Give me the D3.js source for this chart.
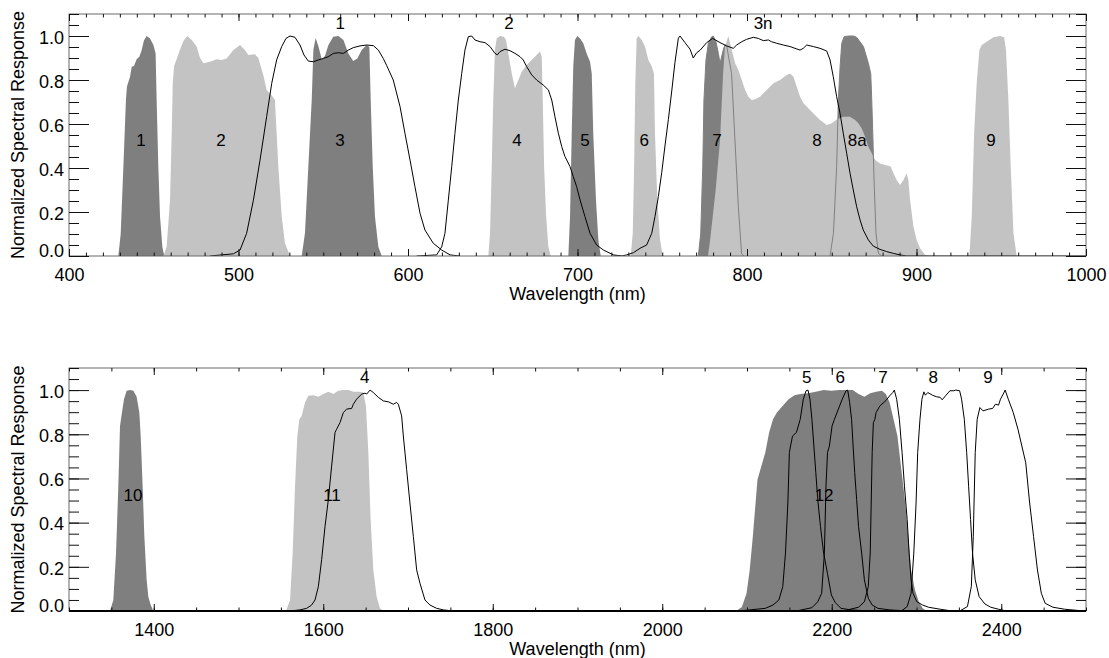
<!DOCTYPE html>
<html>
<head>
	<script src="https://cdn.jsdelivr.net/npm/d3@7"></script>
	<style>
		html, body {
			padding: 0;
			margin: 0;
			background: #fff;
		}
		text {
			font-family: "Liberation Sans", Arial, sans-serif;
		}
	</style>
</head>
<body>
	<script>
		var width = 1109, height = 658;

		// Sentinel-2 MSI bands (filled), [wavelength nm, response]
		var s2b1 = [[429.1,0],[430.5,0.10],[432.1,0.41],[433.6,0.71],[434.2,0.77],[436.0,0.815],[437.0,0.86],[438.3,0.864],[439.9,0.894],[441.5,0.906],[442.9,0.936],[444.2,0.979],[445.8,1.0],[447.8,0.989],[449.8,0.959],[451.1,0.921],[451.7,0.71],[452.7,0.406],[453.7,0.18],[455.1,0.04],[456.2,0]];
		var s2b2 = [[455.7,0],[457.6,0.042],[459.6,0.256],[460.6,0.556],[461.2,0.785],[462.0,0.864],[463.5,0.894],[465.5,0.939],[467.5,0.977],[469.8,1.0],[472.4,0.982],[475.3,0.952],[477.3,0.9],[479.3,0.876],[483.2,0.883],[487.1,0.894],[490.1,0.891],[493.0,0.898],[497.0,0.936],[500.9,0.959],[503.8,0.936],[505.8,0.914],[509.7,0.917],[511.7,0.9],[514.7,0.82],[516.6,0.755],[519.6,0.73],[521.5,0.709],[522.5,0.558],[523.5,0.406],[525.5,0.18],[527.4,0.058],[530.4,0]];
		var s2b3 = [[537.3,0],[539.2,0.103],[541.2,0.406],[543.2,0.709],[544.2,0.939],[545.5,0.991],[547.1,0.955],[549.1,0.894],[551.0,0.909],[553.0,0.958],[555.9,0.997],[558.9,1.0],[561.9,0.982],[564.8,0.921],[567.7,0.886],[570.1,0.898],[572.7,0.936],[575.6,0.959],[577.2,0.95],[578.0,0.709],[579.2,0.406],[580.5,0.18],[582.5,0.042],[584.5,0]];
		var s2b4 = [[647.4,0],[648.4,0.103],[649.4,0.406],[650.3,0.709],[651.3,0.936],[652.3,0.989],[654.3,1.0],[656.6,0.997],[657.8,0.982],[659.2,0.921],[661.2,0.83],[663.1,0.762],[665.1,0.8],[667.1,0.838],[670.0,0.868],[673.0,0.891],[675.9,0.914],[677.9,0.929],[678.9,0.906],[679.5,0.709],[680.3,0.406],[681.5,0.18],[682.8,0.042],[684.2,0]];
		var s2b5 = [[694.6,0],[695.6,0.179],[696.6,0.558],[697.5,0.861],[698.5,0.982],[699.9,1.0],[701.5,0.989],[703.4,0.967],[705.4,0.921],[707.4,0.883],[708.4,0.83],[709.3,0.558],[710.9,0.255],[712.3,0.073],[713.7,0]];
		var s2b6 = [[731.4,0],[732.6,0.103],[733.4,0.406],[734.1,0.785],[734.9,0.989],[735.9,1.0],[737.9,0.982],[739.8,0.952],[741.8,0.891],[743.8,0.861],[745.1,0.83],[745.7,0.558],[747.1,0.255],[748.7,0.073],[750.3,0]];
		var s2b7 = [[771.3,0],[772.7,0.103],[773.9,0.406],[774.6,0.709],[775.8,0.891],[777.2,0.967],[779.2,0.997],[780.1,1.0],[781.7,0.974],[783.1,0.921],[784.1,0.876],[786.1,0.94],[787.0,0.96],[788.0,0.955],[790.9,0.83],[792.9,0.527],[794.9,0.224],[796.8,0.01],[798.2,0]];
		var s2b8 = [[777.0,0],[778.2,0.07],[781.5,0.3],[784.1,0.527],[785.9,0.83],[787.0,0.95],[789.0,1.0],[791.0,0.936],[793.0,0.876],[794.9,0.845],[796.9,0.8],[798.9,0.755],[800.8,0.724],[802.8,0.709],[804.8,0.712],[807.7,0.724],[811.6,0.755],[815.6,0.785],[819.5,0.8],[823.4,0.823],[825.4,0.83],[827.4,0.815],[829.3,0.77],[831.3,0.724],[833.3,0.694],[835.2,0.679],[839.2,0.648],[843.1,0.618],[847.0,0.595],[850.0,0.603],[852.9,0.621],[856.9,0.633],[860.8,0.633],[863.8,0.618],[865.7,0.603],[867.7,0.58],[869.7,0.542],[871.6,0.497],[873.6,0.467],[875.6,0.436],[878.5,0.421],[881.5,0.414],[883.4,0.41],[884.8,0.406],[886.4,0.376],[888.3,0.345],[890.3,0.323],[892.3,0.345],[894.2,0.376],[895.2,0.345],[896.2,0.255],[898.2,0.133],[900.1,0.073],[902.1,0.035],[905.1,0.005],[908.0,0]];
		var s2b8a = [[849.0,0],[851.0,0.103],[852.9,0.406],[853.9,0.709],[854.9,0.858],[855.9,0.967],[857.3,0.997],[859.8,1.0],[862.8,1.0],[864.7,0.994],[868.7,0.952],[871.6,0.876],[873.0,0.83],[873.6,0.709],[874.2,0.558],[875.0,0.333],[876.1,0.103],[877.5,0.012],[879.5,0]];
		var s2b9 = [[931.2,0],[932.6,0.179],[934.0,0.558],[935.5,0.785],[937.1,0.936],[938.5,0.959],[941.4,0.974],[945.4,0.994],[949.3,1.0],[951.7,0.994],[952.8,0.936],[954.2,0.709],[955.6,0.406],[957.2,0.103],[959.1,0]];
		var s2b10 = [[1348.4,0],[1352.3,0.05],[1355.5,0.262],[1358.2,0.565],[1360.2,0.838],[1362.5,0.898],[1364.9,0.959],[1368.0,0.997],[1372.0,1.0],[1375.9,0.997],[1379.8,0.97],[1383.0,0.898],[1384.6,0.792],[1386.9,0.565],[1388.9,0.338],[1391.6,0.141],[1393.6,0.065],[1396.4,0.027],[1399.5,0]];
		var s2b11 = [[1556.0,0],[1560.8,0.05],[1563.9,0.262],[1566.7,0.565],[1569.4,0.792],[1571.8,0.868],[1574.5,0.883],[1578.5,0.944],[1582.4,0.974],[1588.3,0.977],[1594.2,0.97],[1600.1,0.982],[1606.0,0.992],[1611.9,0.982],[1617.8,0.997],[1623.7,1.0],[1629.6,1.0],[1635.5,0.992],[1643.4,0.992],[1647.3,0.989],[1650.4,0.927],[1653.2,0.717],[1655.9,0.414],[1659.1,0.186],[1663.0,0.065],[1666.9,0.012],[1670.9,0]];
		var s2b12 = [[2087.2,0],[2094.0,0.018],[2099.5,0.08],[2103.2,0.186],[2106.9,0.338],[2110.1,0.489],[2112.4,0.595],[2117.0,0.656],[2121.6,0.717],[2126.1,0.808],[2130.7,0.868],[2135.3,0.898],[2142.2,0.929],[2149.1,0.959],[2156.0,0.977],[2162.8,0.982],[2172.0,0.986],[2181.2,0.992],[2190.4,1.0],[2199.5,0.997],[2208.7,1.0],[2217.9,1.0],[2224.8,1.0],[2231.6,0.982],[2238.5,0.97],[2245.4,0.986],[2252.3,0.992],[2259.2,0.997],[2263.8,0.982],[2268.3,0.944],[2272.9,0.868],[2277.5,0.792],[2282.1,0.64],[2286.7,0.489],[2290.3,0.338],[2293.6,0.186],[2298.2,0.095],[2302.7,0.042],[2307.3,0.012],[2311.9,0]];

		// ASTER bands (outlines)
		var ast1 = [[483.2,0],[497.0,0.01],[500.9,0.027],[504.8,0.103],[508.8,0.254],[512.7,0.436],[516.6,0.633],[519.6,0.785],[522.5,0.891],[525.5,0.952],[528.0,0.989],[530.4,1.0],[533.3,0.994],[536.3,0.959],[538.6,0.914],[541.2,0.886],[544.2,0.883],[547.1,0.891],[550.1,0.898],[553.0,0.906],[556.0,0.921],[558.9,0.924],[561.9,0.921],[564.8,0.936],[567.7,0.947],[571.7,0.955],[575.6,0.959],[579.6,0.956],[582.5,0.936],[585.4,0.898],[587.4,0.866],[591.3,0.8],[595.3,0.679],[598.2,0.558],[601.2,0.436],[604.1,0.315],[607.1,0.194],[610.0,0.118],[614.9,0.058],[619.9,0.027],[624.8,0.005],[630.7,0]];
		var ast2 = [[605.1,0],[616.9,0.005],[619.9,0.042],[621.8,0.103],[623.8,0.254],[625.8,0.406],[627.7,0.558],[629.7,0.709],[631.7,0.83],[633.6,0.936],[635.6,0.997],[637.6,1.0],[639.5,0.982],[642.5,0.974],[645.4,0.97],[648.4,0.952],[651.3,0.921],[652.7,0.914],[654.3,0.929],[657.2,0.94],[660.2,0.933],[663.1,0.921],[666.1,0.906],[668.0,0.891],[670.0,0.861],[673.0,0.823],[675.9,0.8],[679.8,0.777],[682.8,0.755],[684.8,0.709],[686.7,0.633],[688.7,0.558],[690.7,0.497],[692.6,0.452],[695.6,0.406],[697.5,0.361],[699.5,0.315],[701.5,0.255],[704.4,0.179],[707.4,0.103],[711.3,0.05],[715.3,0.027],[721.2,0.005],[726.1,0]];
		var ast3n = [[721.2,0],[726.1,0],[729.0,0.005],[733.0,0.015],[736.9,0.035],[740.8,0.05],[743.8,0.103],[745.7,0.179],[747.7,0.27],[749.7,0.38],[751.6,0.5],[753.6,0.62],[755.6,0.75],[757.5,0.88],[759.5,0.99],[760.5,1.0],[763.4,0.97],[766.4,0.94],[768.3,0.9],[770.3,0.924],[772.3,0.935],[776.2,0.97],[779.7,0.989],[784.1,0.97],[788.0,0.955],[791.9,0.944],[793.9,0.959],[796.9,0.974],[799.8,0.985],[803.7,0.994],[806.7,0.989],[809.6,0.979],[812.6,0.982],[814.5,0.974],[817.5,0.967],[821.4,0.959],[825.4,0.952],[828.3,0.944],[831.3,0.936],[833.2,0.944],[835.2,0.959],[839.1,0.952],[843.1,0.944],[847.0,0.932],[849.0,0.891],[850.9,0.815],[852.9,0.724],[854.9,0.648],[856.8,0.558],[858.8,0.467],[860.8,0.376],[862.7,0.3],[864.7,0.224],[866.7,0.164],[868.6,0.118],[871.6,0.073],[874.5,0.045],[878.5,0.03],[882.4,0.02],[886.3,0.012],[890.3,0.005],[894.2,0],[1000,0]];
		var ast4 = [[1300,0],[1560.0,0],[1572.6,0.005],[1580.4,0.012],[1586.3,0.027],[1590.3,0.05],[1594.2,0.11],[1598.1,0.232],[1602.1,0.383],[1606.0,0.504],[1609.9,0.656],[1613.9,0.808],[1615.8,0.823],[1619.8,0.853],[1623.7,0.898],[1627.6,0.914],[1633.5,0.917],[1635.5,0.936],[1639.4,0.959],[1645.3,0.982],[1649.3,0.986],[1651.2,0.982],[1655.2,1.0],[1659.1,0.989],[1665.0,0.967],[1670.9,0.951],[1676.8,0.947],[1682.7,0.936],[1686.6,0.944],[1688.6,0.936],[1692.5,0.883],[1694.5,0.792],[1698.4,0.64],[1702.3,0.489],[1706.3,0.338],[1710.2,0.186],[1714.1,0.126],[1720.0,0.05],[1725.9,0.027],[1733.8,0.012],[1741.7,0.005],[1753.5,0],[2500,0]];
		var ast5 = [[1300,0],[2090.0,0],[2103.2,0.005],[2121.6,0.012],[2130.7,0.027],[2137.6,0.05],[2142.2,0.11],[2145.4,0.262],[2148.2,0.489],[2150.0,0.717],[2151.4,0.747],[2153.7,0.792],[2158.3,0.808],[2162.8,0.868],[2166.5,0.959],[2169.7,0.997],[2172.0,1.0],[2174.3,0.959],[2176.6,0.868],[2178.9,0.747],[2181.2,0.626],[2183.5,0.504],[2186.7,0.383],[2190.4,0.262],[2194.9,0.171],[2199.5,0.073],[2204.1,0.038],[2211.0,0.012],[2222.5,0.005],[2245.4,0],[2500,0]];
		var ast6 = [[1300,0],[2158.3,0],[2176.6,0.015],[2183.5,0.042],[2188.1,0.08],[2191.3,0.262],[2193.2,0.565],[2195.0,0.717],[2197.2,0.747],[2200.4,0.838],[2203.2,0.868],[2207.8,0.914],[2212.4,0.959],[2216.9,0.997],[2218.8,1.0],[2221.1,0.944],[2223.4,0.868],[2225.2,0.747],[2227.1,0.626],[2229.4,0.504],[2231.6,0.383],[2235.3,0.262],[2238.5,0.141],[2243.1,0.058],[2247.7,0.027],[2254.6,0.012],[2268.3,0.005],[2291.3,0],[2500,0]];
		var ast7 = [[1300,0],[2213.3,0],[2231.6,0.017],[2238.5,0.042],[2243.1,0.11],[2245.4,0.262],[2247.7,0.717],[2249.1,0.853],[2250.9,0.868],[2252.3,0.898],[2256.9,0.929],[2263.8,0.952],[2268.3,0.974],[2272.0,0.989],[2273.8,1.0],[2276.6,0.959],[2279.8,0.868],[2283.0,0.717],[2285.8,0.565],[2289.0,0.414],[2291.3,0.262],[2293.6,0.141],[2295.9,0.08],[2300.4,0.042],[2307.3,0.027],[2314.2,0.017],[2328.0,0.008],[2341.7,0],[2500,0]];
		var ast8 = [[1300,0],[2282.1,0],[2289.0,0.02],[2293.6,0.08],[2296.8,0.262],[2299.5,0.489],[2301.4,0.717],[2304.1,0.868],[2306.4,0.959],[2308.7,0.992],[2310.5,0.977],[2313.3,0.989],[2318.8,0.977],[2323.4,0.97],[2328.0,0.967],[2330.3,0.956],[2334.9,0.977],[2339.4,0.997],[2344.0,0.997],[2346.3,1.0],[2350.9,0.997],[2353.2,0.959],[2356.4,0.868],[2359.2,0.717],[2361.5,0.565],[2363.8,0.414],[2366.1,0.262],[2369.3,0.141],[2373.9,0.065],[2380.7,0.032],[2387.6,0.017],[2396.8,0.008],[2405.9,0],[2500,0]];
		var ast9 = [[1300,0],[2350.9,0],[2360.1,0.02],[2364.7,0.111],[2367.0,0.338],[2369.3,0.717],[2371.6,0.868],[2374.8,0.921],[2378.4,0.906],[2385.3,0.914],[2389.9,0.917],[2393.1,0.936],[2396.8,0.932],[2399.1,0.959],[2402.3,0.982],[2404.6,1.0],[2408.3,0.959],[2414.2,0.898],[2419.7,0.823],[2424.3,0.747],[2428.9,0.671],[2433.5,0.489],[2438.1,0.338],[2442.7,0.186],[2447.3,0.08],[2451.8,0.035],[2461.0,0.017],[2474.8,0.008],[2497.7,0],[2500,0]];

		// band labels: [text, wavelength]
		var s2LabelsTop = [['1',442.5],['2',489.7],['3',559.9],['4',664.3],['5',704.4],['6',739.3],['7',782.3],['8',841.3],['8a',865],['9',944]];
		var astLabelsTop = [['1',560],['2',659.6],['3n',809.5]];
		var s2LabelsBottom = [['10',1375.5],['11',1610.3],['12',2191]];
		var astLabelsBottom = [['4',1649],['5',2170.6],['6',2210],['7',2260.5],['8',2319.7],['9',2384.4]];

		var yMajor = [0, 0.2, 0.4, 0.6, 0.8, 1.0];
		var topMajor = [400, 500, 600, 700, 800, 900, 1000];
		var bottomMajor = [1400, 1600, 1800, 2000, 2200, 2400];

		var dark = '#7f7f7f', light = '#c3c3c3';
		var fontSize = 18;

		var svg = d3.select('body').append('svg')
			.attr('width', width)
			.attr('height', height)
			.style('background-color', 'white');

		function drawPanel(p) {
			var x = d3.scaleLinear().domain(p.domain).range([69, 1086]);
			var y = d3.scaleLinear().domain([0, 1.1]).range([p.bottom, p.top]);
			var g = svg.append('g');

			g.append('clipPath').attr('id', p.id)
				.append('rect')
				.attr('x', 69).attr('y', p.top)
				.attr('width', 1017).attr('height', p.bottom - p.top);

			var plot = g.append('g').attr('clip-path', 'url(#' + p.id + ')');

			var area = d3.area()
				.x(function(d) { return x(d[0]); })
				.y0(y(0))
				.y1(function(d) { return y(d[1]); });
			var line = d3.line()
				.x(function(d) { return x(d[0]); })
				.y(function(d) { return y(d[1]); });

			p.fills.forEach(function(f) {
				plot.append('path').datum(f[0])
					.attr('d', area)
					.attr('fill', f[1]);
			});
			p.outlines.forEach(function(o) {
				plot.append('path').datum(o)
					.attr('d', line)
					.attr('fill', 'none')
					.attr('stroke', '#808080')
					.attr('stroke-width', 1);
			});

			// filled band labels sit under the outlines
			g.selectAll('.s2lab').data(p.s2Labels).enter().append('text')
				.attr('x', function(d) { return x(d[1]); })
				.attr('y', y(0.5))
				.attr('text-anchor', 'middle')
				.attr('font-size', 17)
				.text(function(d) { return d[0]; });

			p.lines.forEach(function(l) {
				plot.append('path').datum(l)
					.attr('d', line)
					.attr('fill', 'none')
					.attr('stroke', '#000')
					.attr('stroke-width', 1);
			});

			g.selectAll('.astlab').data(p.astLabels).enter().append('text')
				.attr('x', function(d) { return x(d[1]); })
				.attr('y', y(1.032))
				.attr('text-anchor', 'middle')
				.attr('font-size', 17)
				.text(function(d) { return d[0]; });

			// frame
			g.append('rect')
				.attr('x', 69).attr('y', p.top)
				.attr('width', 1017).attr('height', p.bottom - p.top)
				.attr('fill', 'none')
				.attr('stroke', '#6a6a6a')
				.attr('stroke-width', 1);

			var yMinor = d3.range(0, 1.101, 0.05);
			var xMinor = d3.range(p.domain[0], p.domain[1] + 0.1, p.minorStep);

			// y axes
			var left = g.append('g').attr('transform', 'translate(69,0)')
				.call(d3.axisLeft(y).tickValues(yMajor).tickSizeInner(-20).tickSizeOuter(0)
					.tickPadding(5).tickFormat(d3.format('.1f')));
			left.selectAll('text')
				.attr('font-size', fontSize)
				.attr('font-family', '"Liberation Sans", Arial, sans-serif')
				.attr('fill', '#000')
				.attr('dy', function(d) { return d === 0 ? '0.0em' : '0.4em'; });
			g.append('g').attr('transform', 'translate(69,0)')
				.call(d3.axisLeft(y).tickValues(yMinor).tickSizeInner(-10).tickSizeOuter(0).tickFormat(''));
			g.append('g').attr('transform', 'translate(1086,0)')
				.call(d3.axisRight(y).tickValues(yMajor).tickSizeInner(-20).tickSizeOuter(0).tickFormat(''));
			g.append('g').attr('transform', 'translate(1086,0)')
				.call(d3.axisRight(y).tickValues(yMinor).tickSizeInner(-10).tickSizeOuter(0).tickFormat(''));

			// x axes
			var bottom = g.append('g').attr('transform', 'translate(0,' + p.bottom + ')')
				.call(d3.axisBottom(x).tickValues(p.major).tickSizeInner(-7).tickSizeOuter(0)
					.tickPadding(12).tickFormat(d3.format('d')));
			bottom.selectAll('text')
				.attr('font-size', fontSize)
				.attr('font-family', '"Liberation Sans", Arial, sans-serif')
				.attr('fill', '#000');
			g.append('g').attr('transform', 'translate(0,' + p.bottom + ')')
				.call(d3.axisBottom(x).tickValues(xMinor).tickSizeInner(-3.5).tickSizeOuter(0).tickFormat(''));
			g.append('g').attr('transform', 'translate(0,' + p.top + ')')
				.call(d3.axisTop(x).tickValues(p.major).tickSizeInner(-7).tickSizeOuter(0).tickFormat(''));
			g.append('g').attr('transform', 'translate(0,' + p.top + ')')
				.call(d3.axisTop(x).tickValues(xMinor).tickSizeInner(-3.5).tickSizeOuter(0).tickFormat(''));

			g.selectAll('.domain').remove();
			g.selectAll('.tick line').attr('stroke', '#111');

			if (p.baseline) {
				g.append('line')
					.attr('x1', 69).attr('x2', 1086)
					.attr('y1', p.bottom).attr('y2', p.bottom)
					.attr('stroke', '#000').attr('stroke-width', 2);
			}

			// titles
			g.append('text')
				.attr('x', (69 + 1086) / 2)
				.attr('y', p.bottom + 44)
				.attr('text-anchor', 'middle')
				.attr('font-size', fontSize)
				.text('Wavelength (nm)');
			g.append('text')
				.attr('transform', 'translate(24,' + ((p.top + p.bottom) / 2) + ') rotate(-90)')
				.attr('text-anchor', 'middle')
				.attr('font-size', fontSize)
				.text('Normalized Spectral Response');
		}

		drawPanel({
			id: 'clipTop', top: 14, bottom: 256, domain: [400, 1000],
			major: topMajor, minorStep: 10,
			fills: [[s2b1, dark], [s2b2, light], [s2b3, dark], [s2b4, light], [s2b5, dark],
				[s2b6, light], [s2b7, dark], [s2b8a, dark], [s2b8, light], [s2b9, light]],
			outlines: [s2b7, s2b8a],
			lines: [ast1, ast2, ast3n],
			s2Labels: s2LabelsTop, astLabels: astLabelsTop,
			baseline: false
		});

		drawPanel({
			id: 'clipBottom', top: 368, bottom: 611, domain: [1300, 2500],
			major: bottomMajor, minorStep: 50,
			fills: [[s2b10, dark], [s2b11, light], [s2b12, dark]],
			outlines: [],
			lines: [ast4, ast5, ast6, ast7, ast8, ast9],
			s2Labels: s2LabelsBottom, astLabels: astLabelsBottom,
			baseline: true
		});
	</script>
</body>
</html>
